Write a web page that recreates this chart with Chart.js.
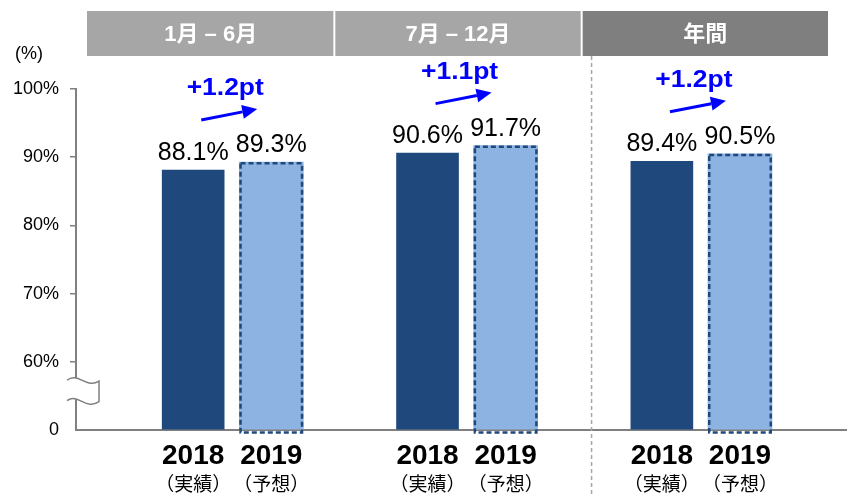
<!DOCTYPE html>
<html>
<head>
<meta charset="utf-8">
<script src="https://cdn.jsdelivr.net/npm/chart.js@4.4.1/dist/chart.umd.min.js"></script>
<style>
html, body { margin: 0; padding: 0; background: #fff; }
#wrap { width: 847px; height: 494px; }
</style>
</head>
<body>
<div id="wrap"><canvas id="chart" width="847" height="494"></canvas></div>
<script>
// Chart data
const periods = ['1月 – 6月', '7月 – 12月', '年間'];
const years = ['2018', '2019'];
const yearNotes = ['（実績）', '（予想）'];
const actual2018 = [88.1, 90.6, 89.4];
const forecast2019 = [89.3, 91.7, 90.5];
const gains = ['+1.2pt', '+1.1pt', '+1.2pt'];
const yTicks = [50, 60, 70, 80, 90, 100];      // 50 = floor of the broken axis
const yTickLabels = ['0', '60%', '70%', '80%', '90%', '100%'];

const FONT = '"Liberation Sans", Arial, "Noto Sans CJK JP", sans-serif';
const DARK = '#1f497d';
const LIGHT = '#8db3e2';

// each period takes 3 slots: 2018, 2019, gap
const slot = (g, s) => g * 3 + s;

// header bands, dashed separator, "(%)"
const headerPlugin = {
    id: 'header',
    afterDraw(chart) {
        const ctx = chart.ctx;
        const area = chart.chartArea;
        const x = chart.scales.x;
        const left = area.left + 11;
        const w = (area.right - 18 - left) / periods.length;
        const bandColors = ['#a6a6a6', '#a6a6a6', '#7f7f7f'];
        ctx.save();
        periods.forEach((p, i) => {
            ctx.fillStyle = bandColors[i];
            ctx.fillRect(left + i * w + (i ? 1 : 0), 11, w - (i ? 1 : 0) - 1, 45);
            ctx.fillStyle = '#fff';
            ctx.font = 'bold 22px ' + FONT;
            ctx.textAlign = 'center';
            ctx.textBaseline = 'middle';
            ctx.fillText(p, left + (i + 0.5) * w, 35);
        });
        // dashed line before the yearly group
        const sx = x.getPixelForValue(5.1);
        ctx.strokeStyle = '#a6a6a6';
        ctx.lineWidth = 1.5;
        ctx.setLineDash([4, 3]);
        ctx.beginPath();
        ctx.moveTo(sx, 56);
        ctx.lineTo(sx, chart.height);
        ctx.stroke();
        ctx.setLineDash([]);
        ctx.fillStyle = '#000';
        ctx.font = '18px ' + FONT;
        ctx.textAlign = 'center';
        ctx.fillText('(%)', 29, 54);
        ctx.restore();
    }
};

// dashed outline on forecast bars, value labels, gain arrows
const barExtras = {
    id: 'barExtras',
    afterDatasetsDraw(chart) {
        const ctx = chart.ctx;
        const bars0 = chart.getDatasetMeta(0).data;
        const bars1 = chart.getDatasetMeta(1).data;
        ctx.save();
        // dashed border
        bars1.forEach(bar => {
            const p = bar.getProps(['x', 'y', 'base', 'width'], true);
            ctx.strokeStyle = DARK;
            ctx.lineWidth = 2.5;
            ctx.setLineDash([5, 3]);
            ctx.strokeRect(p.x - p.width / 2 + 1.25, p.y + 1.25, p.width - 2.5, p.base - p.y + 2);
        });
        ctx.setLineDash([]);
        // value labels
        ctx.fillStyle = '#000';
        ctx.font = '25px ' + FONT;
        ctx.textAlign = 'center';
        ctx.textBaseline = 'alphabetic';
        [[bars0, actual2018], [bars1, forecast2019]].forEach(([bars, vals]) => {
            bars.forEach((bar, i) => {
                ctx.fillText(vals[i].toFixed(1) + '%', bar.x, bar.y - 10);
            });
        });
        // gain text + arrow
        gains.forEach((g, i) => {
            const gx = (bars0[i].x + bars1[i].x) / 2;
            const top = Math.min(bars0[i].y, bars1[i].y);
            const ty = top - 73;
            const ay = top - 48;
            ctx.save();
            ctx.translate(gx - 7, ty);
            ctx.scale(1.15, 1);
            ctx.fillStyle = '#0000ff';
            ctx.font = 'bold 23px ' + FONT;
            ctx.textAlign = 'center';
            ctx.textBaseline = 'middle';
            ctx.fillText(g, 0, 0);
            ctx.restore();

            const x1 = gx - 31, y1 = ay + 6;
            const x2 = gx + 25, y2 = ay - 5;
            const ang = Math.atan2(y2 - y1, x2 - x1);
            const hl = 15, hw = 7;
            const bx = x2 - hl * Math.cos(ang), by = y2 - hl * Math.sin(ang);
            ctx.strokeStyle = '#0000ff';
            ctx.fillStyle = '#0000ff';
            ctx.lineWidth = 3;
            ctx.beginPath();
            ctx.moveTo(x1, y1);
            ctx.lineTo(bx, by);
            ctx.stroke();
            ctx.beginPath();
            ctx.moveTo(x2, y2);
            ctx.lineTo(bx + hw * Math.sin(ang), by - hw * Math.cos(ang));
            ctx.lineTo(bx - hw * Math.sin(ang), by + hw * Math.cos(ang));
            ctx.closePath();
            ctx.fill();
        });
        ctx.restore();
    }
};

// break mark on the y axis between 0 and 60%
const axisBreak = {
    id: 'axisBreak',
    afterDraw(chart) {
        const ctx = chart.ctx;
        const y = chart.scales.y;
        const L = chart.chartArea.left;
        const ya = y.getPixelForValue(57.3);
        const yb = y.getPixelForValue(54.3);
        const x0 = L - 9, x1 = L + 23;
        const shape = () => {
            ctx.beginPath();
            ctx.moveTo(x0, ya);
            ctx.bezierCurveTo(x0 + 11, ya - 9, x0 + 19, ya + 9, x1, ya + 1);
            ctx.lineTo(x1, yb + 1);
            ctx.bezierCurveTo(x1 - 13, yb + 10, x1 - 21, yb - 8, x0, yb);
        };
        ctx.save();
        ctx.fillStyle = '#fff';
        shape();
        ctx.closePath();
        ctx.fill();
        ctx.strokeStyle = '#808080';
        ctx.lineWidth = 1.5;
        shape();
        ctx.stroke();
        ctx.restore();
    }
};

const tickList = () => periods.flatMap((p, g) => years.map((yr, s) => ({ value: slot(g, s) })));

new Chart(document.getElementById('chart'), {
    type: 'bar',
    data: {
        datasets: [{
            label: years[0],
            data: actual2018.map((v, g) => ({ x: slot(g, 0), y: v })),
            backgroundColor: DARK,
            barThickness: 62,
            base: 50,
            grouped: false
        }, {
            label: years[1],
            data: forecast2019.map((v, g) => ({ x: slot(g, 1), y: v })),
            backgroundColor: LIGHT,
            barThickness: 64,
            base: 50,
            grouped: false
        }]
    },
    options: {
        responsive: false,
        animation: false,
        devicePixelRatio: 1,
        layout: { padding: { top: 89, left: 0, right: 0, bottom: 0 } },
        plugins: {
            legend: { display: false },
            tooltip: { enabled: false }
        },
        scales: {
            x: {
                type: 'linear',
                position: 'bottom',
                min: -1.5,
                max: 8.37,
                offset: false,
                afterBuildTicks: s => { s.ticks = tickList(); },
                afterFit: s => { s.height = 37; },
                grid: { display: false, drawTicks: false },
                border: { color: '#808080', width: 2 },
                ticks: {
                    autoSkip: false,
                    maxRotation: 0,
                    padding: 9,
                    color: '#000',
                    font: { family: FONT, size: 28, weight: 'bold' },
                    callback: v => years[v % 3]
                }
            },
            x2: {
                type: 'linear',
                position: 'bottom',
                min: -1.5,
                max: 8.37,
                offset: false,
                afterBuildTicks: s => { s.ticks = tickList(); },
                afterFit: s => { s.height = 27; },
                grid: { display: false, drawTicks: false },
                border: { display: false },
                ticks: {
                    autoSkip: false,
                    maxRotation: 0,
                    padding: 7,
                    color: '#000',
                    font: { family: FONT, size: 19 },
                    callback: v => yearNotes[v % 3]
                }
            },
            y: {
                min: 50,
                max: 100,
                afterBuildTicks: s => { s.ticks = yTicks.map(v => ({ value: v })); },
                afterFit: s => { s.width = 76; },
                grid: {
                    drawOnChartArea: false,
                    drawTicks: true,
                    tickLength: 6,
                    color: c => c.tick && c.tick.value === 50 ? 'rgba(0,0,0,0)' : '#808080',
                    lineWidth: 1.5
                },
                border: { color: '#808080', width: 2 },
                ticks: {
                    padding: 11,
                    color: '#000',
                    font: { family: FONT, size: 18 },
                    callback: v => yTickLabels[yTicks.indexOf(v)]
                }
            }
        }
    },
    plugins: [headerPlugin, barExtras, axisBreak]
});
</script>
</body>
</html>
